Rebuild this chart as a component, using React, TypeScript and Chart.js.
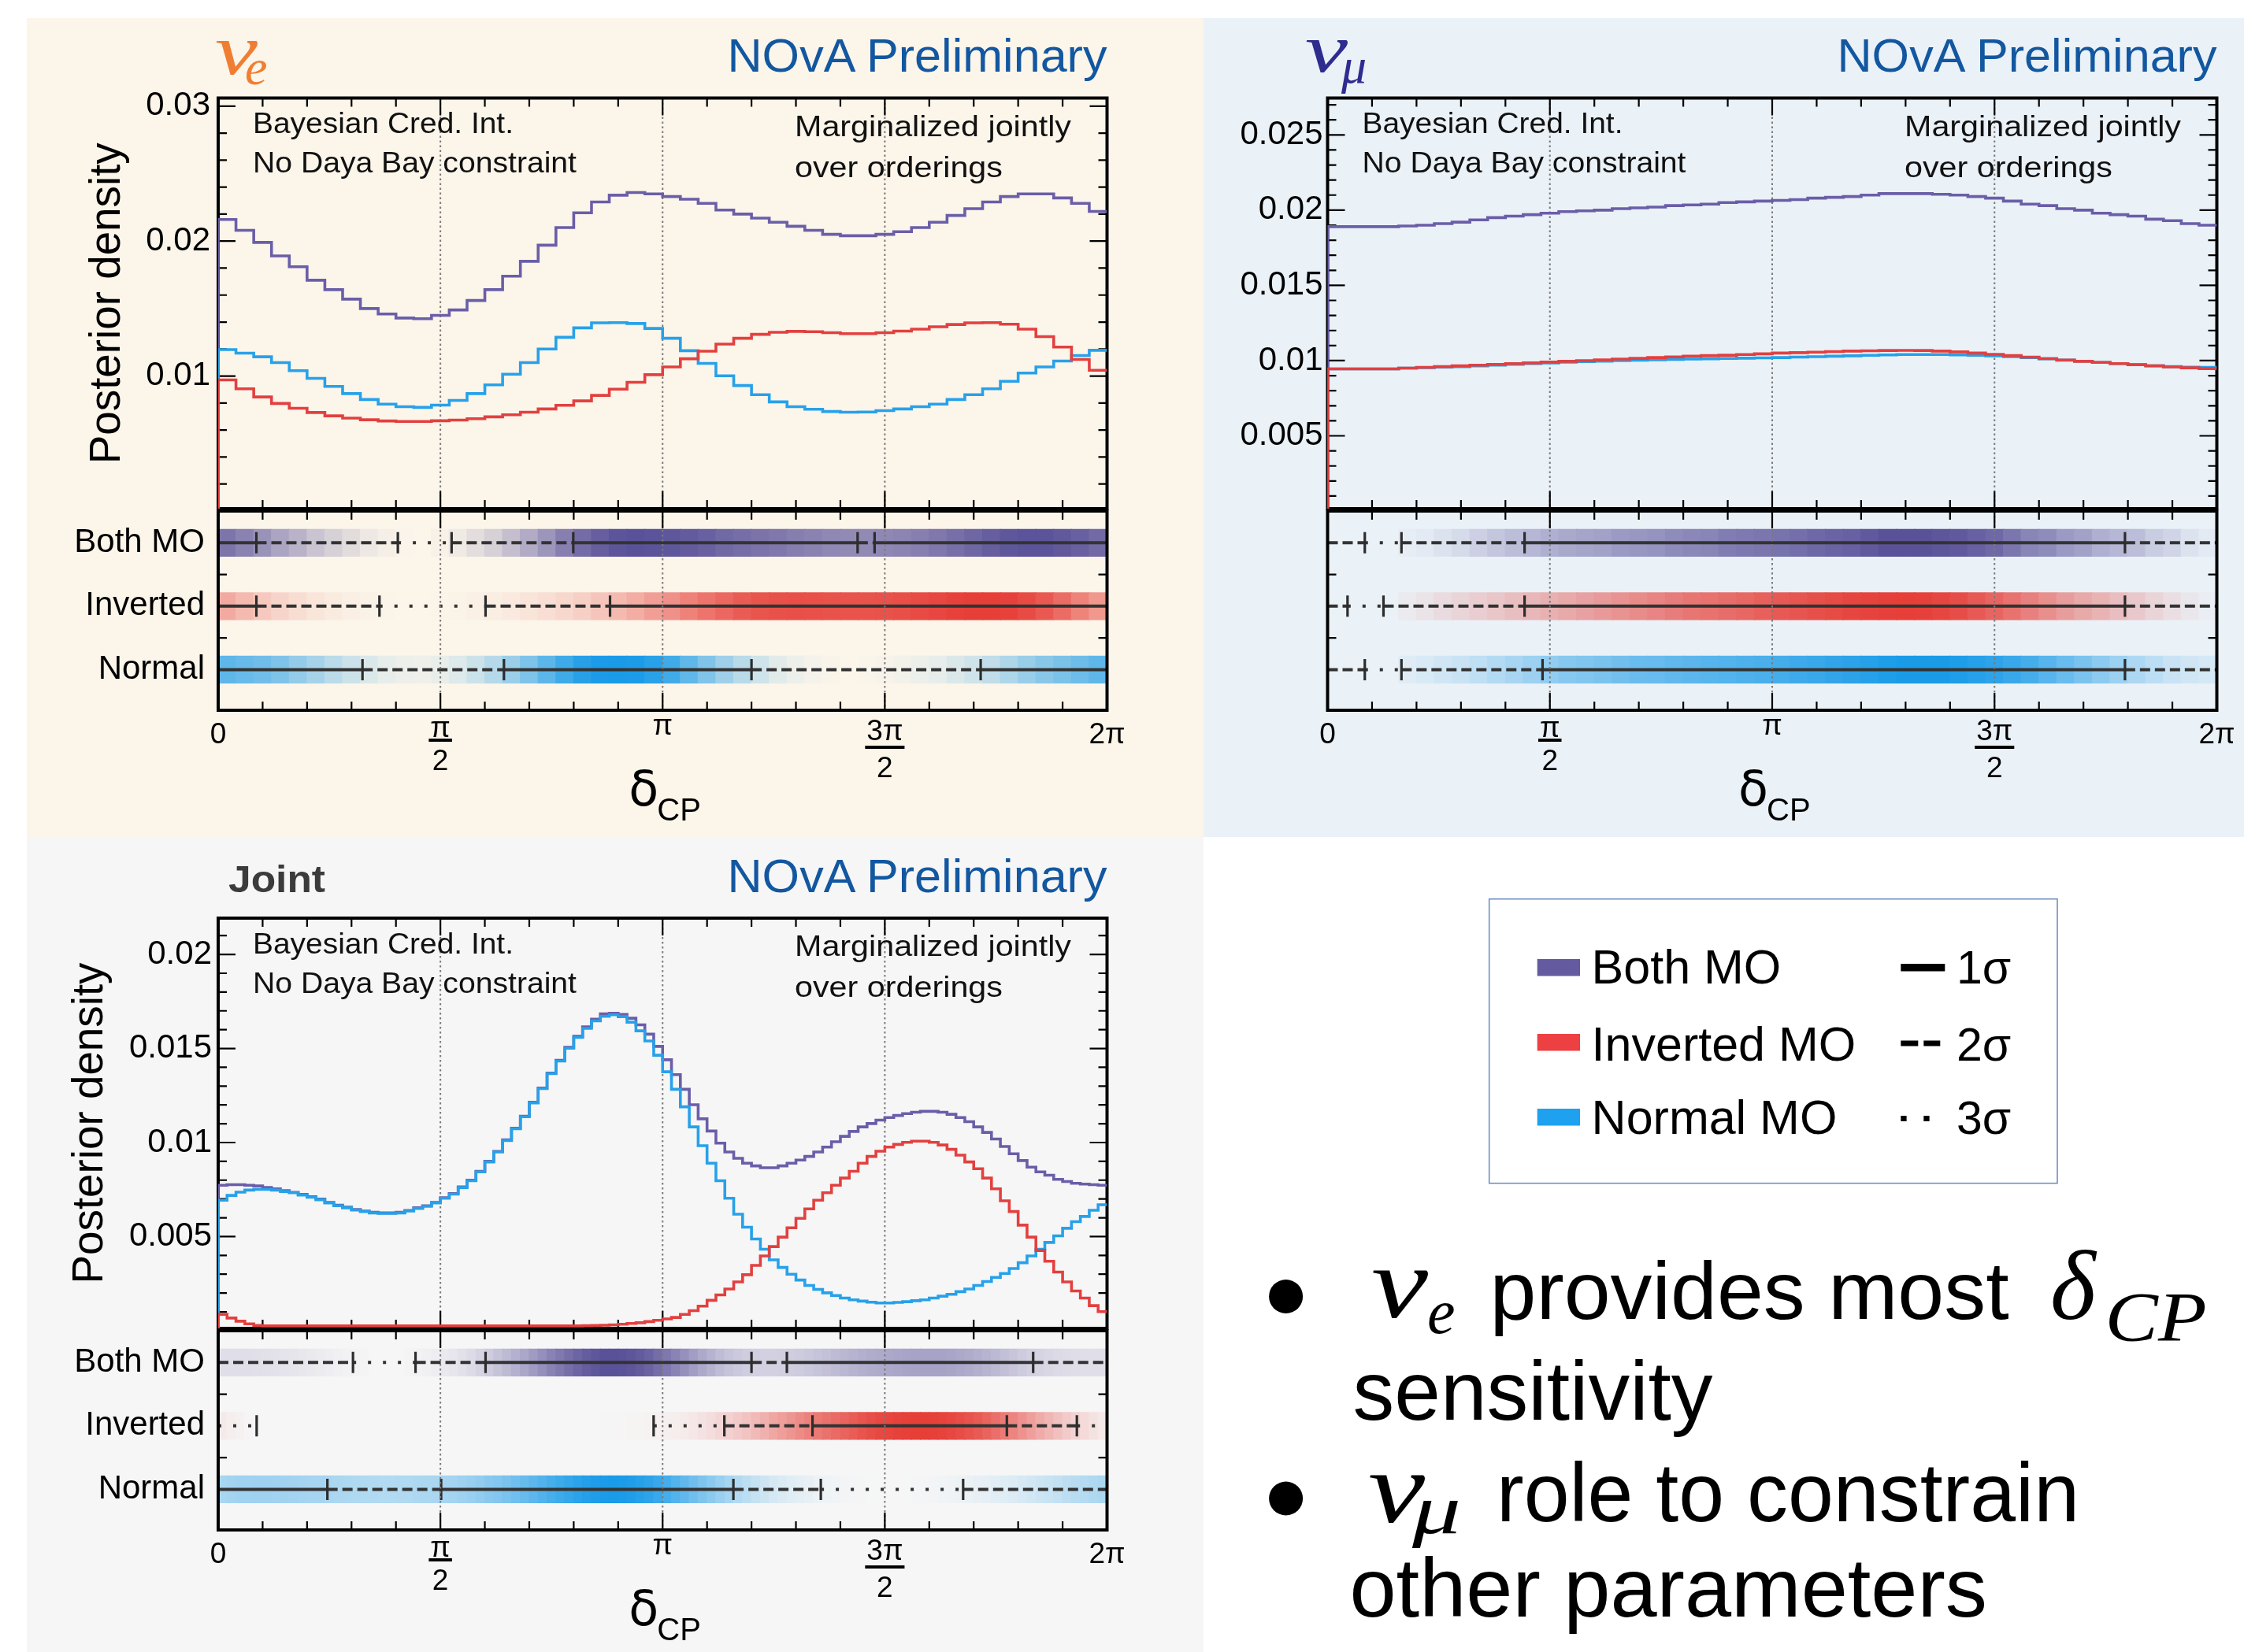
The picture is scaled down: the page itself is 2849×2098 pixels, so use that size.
import React, { useEffect, useRef } from 'react';
import { Chart, registerables } from 'chart.js';

Chart.register(...registerables);

const PI = Math.PI;
const TWO_PI = 2 * Math.PI;

// ================= posterior density per bin (δCP from 0 to 2π) =================
// νe-only, 50 bins
const nueBoth = [0.0216, 0.0208, 0.0199, 0.0189, 0.0181, 0.0171, 0.0164, 0.0157, 0.015, 0.0146, 0.0143, 0.01425, 0.0145, 0.0149, 0.0156, 0.0164, 0.0174, 0.0185, 0.0197, 0.021, 0.0221, 0.0229, 0.0234, 0.0236, 0.0235, 0.0233, 0.0231, 0.0228, 0.0223, 0.022, 0.0217, 0.0214, 0.0211, 0.0208, 0.0205, 0.0204, 0.0204, 0.0205, 0.0207, 0.021, 0.0214, 0.0219, 0.0224, 0.0229, 0.0233, 0.0235, 0.0235, 0.0232, 0.0228, 0.0222];
const nueInverted = [0.00971, 0.00906, 0.00845, 0.00797, 0.00761, 0.0073, 0.00705, 0.00688, 0.00676, 0.00667, 0.00664, 0.00664, 0.00669, 0.00674, 0.00684, 0.00698, 0.00713, 0.00732, 0.00756, 0.00783, 0.00816, 0.00857, 0.00903, 0.00954, 0.0101, 0.01068, 0.01128, 0.01184, 0.01237, 0.0128, 0.01309, 0.01324, 0.01331, 0.01329, 0.01321, 0.01314, 0.01314, 0.01321, 0.01333, 0.01348, 0.01365, 0.01382, 0.01394, 0.01396, 0.01384, 0.01348, 0.01292, 0.01215, 0.01123, 0.01043];
const nueNormal = [0.01196, 0.0117, 0.01143, 0.011, 0.0104, 0.00983, 0.00923, 0.0087, 0.00826, 0.00792, 0.00773, 0.00768, 0.00785, 0.0082, 0.0087, 0.00935, 0.01014, 0.011, 0.012, 0.01287, 0.01357, 0.01394, 0.01396, 0.01389, 0.01353, 0.0128, 0.01188, 0.01094, 0.01002, 0.0093, 0.00862, 0.00809, 0.00773, 0.00754, 0.00737, 0.00732, 0.00734, 0.00744, 0.00756, 0.00773, 0.00792, 0.00826, 0.00862, 0.00906, 0.00961, 0.01022, 0.01068, 0.01111, 0.01152, 0.01191];
// νμ-only, 50 bins
const numuBoth = [0.0189, 0.0189, 0.0189, 0.0189, 0.01895, 0.019, 0.0191, 0.0192, 0.01935, 0.0195, 0.0196, 0.0197, 0.0198, 0.0199, 0.01995, 0.02, 0.0201, 0.02015, 0.0202, 0.0203, 0.02035, 0.0204, 0.0205, 0.02055, 0.0206, 0.02065, 0.0207, 0.0208, 0.02085, 0.0209, 0.021, 0.0211, 0.0211, 0.0211, 0.02105, 0.021, 0.0209, 0.0208, 0.0206, 0.0204, 0.0203, 0.0201, 0.02, 0.0198, 0.0197, 0.0196, 0.0194, 0.0193, 0.0191, 0.019];
const numuInverted = [0.00945, 0.00945, 0.00945, 0.00945, 0.0095, 0.00955, 0.0096, 0.00965, 0.0097, 0.00975, 0.0098, 0.00985, 0.0099, 0.00995, 0.01, 0.01005, 0.0101, 0.01015, 0.0102, 0.01025, 0.0103, 0.01033, 0.01036, 0.0104, 0.01045, 0.0105, 0.01053, 0.01056, 0.0106, 0.01063, 0.01065, 0.01067, 0.01068, 0.01067, 0.01063, 0.01058, 0.0105, 0.01042, 0.01033, 0.01023, 0.01013, 0.01003, 0.00995, 0.00988, 0.0098, 0.00973, 0.00965, 0.00958, 0.00952, 0.00947];
const numuNormal = [0.00945, 0.00945, 0.00945, 0.00945, 0.0095, 0.00953, 0.00957, 0.0096, 0.00965, 0.0097, 0.00975, 0.0098, 0.00985, 0.0099, 0.00993, 0.00996, 0.01, 0.01003, 0.01005, 0.01008, 0.0101, 0.01012, 0.01014, 0.01016, 0.01018, 0.0102, 0.01023, 0.01026, 0.01029, 0.01032, 0.01035, 0.01038, 0.0104, 0.0104, 0.0104, 0.01038, 0.01035, 0.01031, 0.01026, 0.0102, 0.01012, 0.01004, 0.00996, 0.00988, 0.0098, 0.00973, 0.00966, 0.0096, 0.00957, 0.00955];
// joint, 100 bins
const jointBoth = [0.00773, 0.00776, 0.00776, 0.00773, 0.00769, 0.00761, 0.00754, 0.00744, 0.00735, 0.00724, 0.00712, 0.00699, 0.00682, 0.00667, 0.00656, 0.00644, 0.00636, 0.00629, 0.00626, 0.00626, 0.00629, 0.00639, 0.00653, 0.00664, 0.00682, 0.00707, 0.00729, 0.00764, 0.008, 0.00847, 0.009, 0.00953, 0.01014, 0.01076, 0.0114, 0.01214, 0.0129, 0.01369, 0.01437, 0.01506, 0.01565, 0.01615, 0.01656, 0.01684, 0.01687, 0.01681, 0.01661, 0.01626, 0.01576, 0.01511, 0.0144, 0.01361, 0.01283, 0.01201, 0.01126, 0.01061, 0.00997, 0.0095, 0.00916, 0.0089, 0.00876, 0.00866, 0.00866, 0.00876, 0.0089, 0.00907, 0.00926, 0.0095, 0.00976, 0.01004, 0.01033, 0.01059, 0.01083, 0.01101, 0.01119, 0.01133, 0.01144, 0.01154, 0.01161, 0.01166, 0.01166, 0.01161, 0.0115, 0.01133, 0.01111, 0.01083, 0.01054, 0.01019, 0.00979, 0.0094, 0.00904, 0.00869, 0.00844, 0.00826, 0.00804, 0.00793, 0.00783, 0.00779, 0.00776, 0.00773];
const jointInverted = [0.00087, 0.00067, 0.0005, 0.00036, 0.00027, 0.00025, 0.00025, 0.00025, 0.00025, 0.00025, 0.00025, 0.00025, 0.00025, 0.00025, 0.00025, 0.00025, 0.00025, 0.00025, 0.00025, 0.00025, 0.00025, 0.00025, 0.00025, 0.00025, 0.00025, 0.00025, 0.00025, 0.00025, 0.00025, 0.00025, 0.00025, 0.00025, 0.00025, 0.00025, 0.00025, 0.00025, 0.00025, 0.00025, 0.00025, 0.00025, 0.00025, 0.00026, 0.00027, 0.00029, 0.00031, 0.00034, 0.00038, 0.00042, 0.00048, 0.00055, 0.00062, 0.0007, 0.00086, 0.00106, 0.0013, 0.00161, 0.0019, 0.00221, 0.00259, 0.00297, 0.00347, 0.00397, 0.00447, 0.00497, 0.00547, 0.00597, 0.00647, 0.00693, 0.00733, 0.00773, 0.00811, 0.00847, 0.0089, 0.00926, 0.00954, 0.00976, 0.0099, 0.01001, 0.01007, 0.01007, 0.01001, 0.00987, 0.00964, 0.00933, 0.00897, 0.00861, 0.00811, 0.00754, 0.0069, 0.00633, 0.00561, 0.00497, 0.00426, 0.00369, 0.00311, 0.00259, 0.00211, 0.00173, 0.00133, 0.00101];
const jointNormal = [0.00693, 0.00719, 0.00736, 0.00747, 0.00751, 0.00751, 0.00747, 0.0074, 0.00733, 0.00721, 0.00709, 0.00696, 0.00679, 0.00664, 0.00653, 0.00641, 0.00633, 0.00626, 0.00623, 0.00623, 0.00626, 0.00636, 0.0065, 0.00661, 0.00679, 0.00704, 0.00726, 0.00761, 0.00797, 0.00844, 0.00897, 0.0095, 0.01011, 0.01073, 0.01137, 0.01211, 0.01287, 0.01366, 0.01433, 0.01501, 0.01559, 0.01607, 0.01647, 0.01671, 0.01679, 0.01669, 0.0164, 0.01594, 0.0154, 0.01464, 0.01376, 0.01283, 0.0119, 0.01083, 0.00983, 0.0089, 0.00797, 0.00704, 0.00619, 0.0055, 0.00487, 0.00433, 0.00376, 0.00336, 0.003, 0.00269, 0.0024, 0.00219, 0.00201, 0.00187, 0.00173, 0.00164, 0.00157, 0.00151, 0.00147, 0.00147, 0.0015, 0.00154, 0.00159, 0.00164, 0.00173, 0.00183, 0.00193, 0.00207, 0.00221, 0.0024, 0.00261, 0.00283, 0.00304, 0.0033, 0.00361, 0.00397, 0.00433, 0.00469, 0.00504, 0.00544, 0.00579, 0.00607, 0.0064, 0.00669];

// ================= credible intervals: segment edges (rad) + level per segment =================
// level 1 = 1σ (solid), 2 = 2σ (dashed), 3 = 3σ (dotted), 0 = outside
const nueBothEdges = [0, 0.27, 1.27, 1.65, 2.51, 4.52, 4.64, TWO_PI];
const nueBothLevels = [1, 2, 3, 2, 1, 2, 1];
const nueInvertedEdges = [0, 0.27, 1.14, 1.89, 2.77, TWO_PI];
const nueInvertedLevels = [1, 2, 3, 2, 1];
const nueNormalEdges = [0, 1.02, 2.02, 3.77, 5.39, TWO_PI];
const nueNormalLevels = [1, 2, 1, 2, 1];

const numuBothEdges = [0, 0.263, 0.522, 1.392, 5.634, TWO_PI];
const numuBothLevels = [2, 3, 2, 1, 2];
const numuInvertedEdges = [0, 0.141, 0.395, 1.392, 5.634, TWO_PI];
const numuInvertedLevels = [2, 3, 2, 1, 2];
const numuNormalEdges = [0, 0.263, 0.522, 1.519, 5.634, TWO_PI];
const numuNormalLevels = [2, 3, 2, 1, 2];

const jointBothEdges = [0, 0.953, 1.395, 1.89, 3.77, 4.02, 5.761, TWO_PI];
const jointBothLevels = [2, 3, 2, 1, 2, 1, 2];
const jointInvertedEdges = [0, 0.272, 3.078, 3.578, 4.201, 5.575, 6.07, TWO_PI];
const jointInvertedLevels = [3, 0, 3, 2, 1, 2, 3];
const jointNormalEdges = [0, 0.772, 1.576, 3.642, 4.26, 5.266, TWO_PI];
const jointNormalLevels = [1, 2, 1, 2, 3, 2];

// ================= axis ticks and labels =================
const rowLabels = ['Normal', 'Inverted', 'Both MO']; // strip rows at y = 0, 1, 2
const rowValues = [0, 1, 2];
const stripYTicks = [0.5, 1.5];
const xLabelValues = [0, PI / 2, PI, 1.5 * PI, TWO_PI];
const xLabelNum = ['0', 'π', 'π', '3π', '2π'];
const xLabelDen = ['', '2', '', '2', ''];
const xGridValues = [PI / 2, PI, 1.5 * PI];
const nueYLabelValues = [0.01, 0.02, 0.03];
const nueYLabels = ['0.01', '0.02', '0.03'];
const numuYLabelValues = [0.005, 0.01, 0.015, 0.02, 0.025];
const numuYLabels = ['0.005', '0.01', '0.015', '0.02', '0.025'];
const jointYLabelValues = [0.005, 0.01, 0.015, 0.02];
const jointYLabels = ['0.005', '0.01', '0.015', '0.02'];

function steps(a: number, b: number, s: number) {
  const out: number[] = [];
  for (let k = 0; a + k * s <= b + 1e-9; k++) out.push(a + k * s);
  return out;
}
const xTicks = steps(0, TWO_PI, PI / 10);

// ================= styles =================
const SANS = "'Liberation Sans', Arial, Helvetica, sans-serif";
const SERIF = "'Liberation Serif', 'Times New Roman', serif";
const LINE = { both: '#6a5ea8', inverted: '#e2403f', normal: '#27a1e9' };
const BAND = { both: '#5a5299', inverted: '#e63f38', normal: '#1a9be8' };
const INTERVAL_COLOR = '#333333';
const DASH: Record<number, number[]> = { 1: [], 2: [13, 6], 3: [4, 15] };

function hexRgb(h: string) {
  const n = parseInt(h.slice(1), 16);
  return [(n >> 16) & 255, (n >> 8) & 255, n & 255];
}
function mix(bg: string, fg: string, t: number) {
  const a = hexRgb(bg), b = hexRgb(fg);
  const c = a.map((v, i) => Math.round(v + (b[i] - v) * t));
  return `rgb(${c[0]},${c[1]},${c[2]})`;
}

type Rows = { both: number[]; inverted: number[]; normal: number[] };
type Interval = { edges: number[]; levels: number[] };
type PanelCfg = {
  bg: string;
  box: { left: number; top: number; width: number; height: number };
  frameL: number; frameR: number;
  densTop: number; densBot: number; stripTop: number; stripBot: number;
  yMin: number; yMax: number;
  yLabelValues: number[]; yLabels: string[]; yTicks: number[]; yLabelPad: number;
  series: Rows;
  intervals: { both: Interval; inverted: Interval; normal: Interval };
  showRowLabels: boolean;
};

const panels: PanelCfg[] = [
  {
    bg: '#fbf5ea', box: { left: 34, top: 23, width: 1494, height: 1040 },
    frameL: 277, frameR: 1405.5, densTop: 124.5, densBot: 646, stripTop: 649, stripBot: 902,
    yMin: 0.000175, yMax: 0.0306,
    yLabelValues: nueYLabelValues, yLabels: nueYLabels, yTicks: steps(0.002, 0.0305, 0.002), yLabelPad: 10,
    series: { both: nueBoth, inverted: nueInverted, normal: nueNormal },
    intervals: {
      both: { edges: nueBothEdges, levels: nueBothLevels },
      inverted: { edges: nueInvertedEdges, levels: nueInvertedLevels },
      normal: { edges: nueNormalEdges, levels: nueNormalLevels },
    },
    showRowLabels: true,
  },
  {
    bg: '#eaf1f7', box: { left: 1528, top: 23, width: 1321, height: 1040 },
    frameL: 1685.5, frameR: 2814.5, densTop: 124.5, densBot: 646, stripTop: 649, stripBot: 902,
    yMin: 0.00016, yMax: 0.02745,
    yLabelValues: numuYLabelValues, yLabels: numuYLabels, yTicks: steps(0.001, 0.0274, 0.001), yLabelPad: 6,
    series: { both: numuBoth, inverted: numuInverted, normal: numuNormal },
    intervals: {
      both: { edges: numuBothEdges, levels: numuBothLevels },
      inverted: { edges: numuInvertedEdges, levels: numuInvertedLevels },
      normal: { edges: numuNormalEdges, levels: numuNormalLevels },
    },
    showRowLabels: false,
  },
  {
    bg: '#f6f6f6', box: { left: 34, top: 1063, width: 1494, height: 1035 },
    frameL: 277, frameR: 1405.5, densTop: 1166, densBot: 1687, stripTop: 1690, stripBot: 1943,
    yMin: 0.00012, yMax: 0.02193,
    yLabelValues: jointYLabelValues, yLabels: jointYLabels, yTicks: steps(0.001, 0.0219, 0.001), yLabelPad: 8,
    series: { both: jointBoth, inverted: jointInverted, normal: jointNormal },
    intervals: {
      both: { edges: jointBothEdges, levels: jointBothLevels },
      inverted: { edges: jointInvertedEdges, levels: jointInvertedLevels },
      normal: { edges: jointNormalEdges, levels: jointNormalLevels },
    },
    showRowLabels: true,
  },
];

const Y_AXIS_W = 250;

function canvasBox(fL: number, fR: number, fT: number, fB: number, padT: number, padB: number) {
  const left = Math.floor(fL - Y_AXIS_W);
  const top = Math.floor(fT - padT);
  const right = Math.ceil(fR + 30);
  const bottom = Math.ceil(fB + padB);
  return {
    left, top, w: right - left, h: bottom - top,
    padding: { left: fL - Y_AXIS_W - left, top: fT - top, right: right - fR, bottom: bottom - fB },
  };
}

function histPoints(values: number[]) {
  const w = TWO_PI / values.length;
  const pts: { x: number; y: number }[] = [{ x: 0, y: 0 }];
  values.forEach((v, i) => pts.push({ x: i * w, y: v }));
  pts.push({ x: TWO_PI, y: values[values.length - 1] });
  return pts;
}

function near(v: number, arr: number[]) {
  return arr.some((a) => Math.abs(a - v) < 1e-7);
}

function makeFramePlugin(o: { yTicks: number[]; yMajor: number[]; onTop: boolean; xLabels: boolean }) {
  const drawFrame = (chart: any) => {
    const { ctx, chartArea: a } = chart;
    const xs = chart.scales.x, ys = chart.scales.y;
    ctx.save();
    ctx.strokeStyle = '#7a7a7a';
    ctx.lineWidth = 2;
    ctx.setLineDash([2.4, 3.6]);
    ctx.beginPath();
    for (const v of xGridValues) {
      const X = xs.getPixelForValue(v);
      ctx.moveTo(X, a.top);
      ctx.lineTo(X, a.bottom);
    }
    ctx.stroke();
    ctx.setLineDash([]);
    ctx.strokeStyle = '#000';
    ctx.lineWidth = 2.2;
    ctx.beginPath();
    for (const v of xTicks) {
      const X = xs.getPixelForValue(v);
      const len = near(v, xLabelValues) ? 22 : 11;
      ctx.moveTo(X, a.top); ctx.lineTo(X, a.top + len);
      ctx.moveTo(X, a.bottom); ctx.lineTo(X, a.bottom - len);
    }
    for (const v of o.yTicks) {
      const Y = ys.getPixelForValue(v);
      const len = near(v, o.yMajor) ? 22 : 11;
      ctx.moveTo(a.left, Y); ctx.lineTo(a.left + len, Y);
      ctx.moveTo(a.right, Y); ctx.lineTo(a.right - len, Y);
    }
    ctx.stroke();
    ctx.lineWidth = 4;
    ctx.strokeRect(a.left, a.top, a.right - a.left, a.bottom - a.top);
    ctx.restore();
  };
  const drawXLabels = (chart: any) => {
    const { ctx, chartArea: a } = chart;
    const xs = chart.scales.x;
    ctx.save();
    ctx.fillStyle = '#000';
    ctx.textAlign = 'center';
    ctx.textBaseline = 'alphabetic';
    ctx.font = `37px ${SANS}`;
    xLabelValues.forEach((v, i) => {
      const X = xs.getPixelForValue(v);
      const num = xLabelNum[i];
      const den = xLabelDen[i];
      if (!den) {
        ctx.fillText(num, X, a.bottom + (num === 'π' ? 31 : 42));
      } else {
        const tall = num.length > 1;
        const nb = a.bottom + (tall ? 38 : 34);
        ctx.fillText(num, X, nb);
        const w = ctx.measureText(num).width + 4;
        ctx.fillRect(X - w / 2, nb + (tall ? 7 : 2), w, 4);
        ctx.fillText(den, X, a.bottom + (tall ? 85 : 76));
      }
    });
    const cx = (a.left + a.right) / 2;
    ctx.textAlign = 'left';
    ctx.font = `62px 'DejaVu Sans', ${SANS}`;
    ctx.fillText('δ', cx - 43, a.bottom + 121);
    ctx.font = `40px ${SANS}`;
    ctx.fillText('CP', cx - 7, a.bottom + 140);
    ctx.restore();
  };
  return {
    id: 'rootFrame',
    beforeDatasetsDraw(chart: any) { if (!o.onTop) drawFrame(chart); },
    afterDatasetsDraw(chart: any) {
      if (o.onTop) drawFrame(chart);
      if (o.xLabels) drawXLabels(chart);
    },
  };
}

function baseOptions(padding: any) {
  return {
    responsive: false,
    maintainAspectRatio: false,
    animation: false,
    devicePixelRatio: 1,
    events: [],
    layout: { padding },
    plugins: { legend: { display: false }, tooltip: { enabled: false }, title: { display: false } },
  };
}

function densityConfig(p: PanelCfg, box: any) {
  const mk = (label: string, values: number[], color: string, order: number) => ({
    type: 'line', label, data: histPoints(values), borderColor: color, borderWidth: 3.6,
    pointRadius: 0, stepped: 'before', fill: false, tension: 0, order,
  });
  return {
    type: 'line',
    data: {
      datasets: [
        mk('Inverted MO', p.series.inverted, LINE.inverted, 0),
        mk('Normal MO', p.series.normal, LINE.normal, 1),
        mk('Both MO', p.series.both, LINE.both, 2),
      ],
    },
    options: {
      ...baseOptions(box.padding),
      scales: {
        x: { type: 'linear', min: 0, max: TWO_PI, display: false, offset: false },
        y: {
          type: 'linear', position: 'left', min: p.yMin, max: p.yMax, offset: false,
          grid: { display: false, drawTicks: false, offset: false }, border: { display: false },
          ticks: {
            display: true, autoSkip: false, padding: p.yLabelPad, color: '#000',
            font: { family: SANS, size: 42 },
            callback: (_v: any, i: number) => p.yLabels[i],
          },
          afterBuildTicks: (s: any) => { s.ticks = p.yLabelValues.map((v) => ({ value: v })); },
          afterFit: (s: any) => { s.width = Y_AXIS_W; },
        },
      },
    },
    plugins: [makeFramePlugin({ yTicks: p.yTicks, yMajor: p.yLabelValues, onTop: false, xLabels: false })],
  };
}

function stripConfig(p: PanelCfg, box: any) {
  const rows: { key: 'both' | 'inverted' | 'normal'; y: number }[] = [
    { key: 'normal', y: 0 }, { key: 'inverted', y: 1 }, { key: 'both', y: 2 },
  ];
  const datasets: any[] = [];
  const markers: { x: number; y: number }[] = [];
  rows.forEach(({ key, y }) => {
    const vals = p.series[key];
    const lo = Math.min(...vals), hi = Math.max(...vals);
    const w = TWO_PI / vals.length;
    datasets.push({
      type: 'bar', label: key + ' band', indexAxis: 'y', grouped: false,
      data: vals.map((v, i) => ({ x: [i * w, (i + 1) * w], y })),
      backgroundColor: vals.map((v) => mix(p.bg, BAND[key], (v - lo) / (hi - lo))),
      borderWidth: 0, barThickness: 34, inflateAmount: 0.6, order: 3,
    });
    const iv = p.intervals[key];
    [1, 2, 3].forEach((lvl) => {
      const data: any[] = [];
      iv.levels.forEach((l, s) => {
        if (l !== lvl) return;
        data.push({ x: iv.edges[s], y }, { x: iv.edges[s + 1], y }, { x: iv.edges[s + 1], y: null });
      });
      if (!data.length) return;
      datasets.push({
        type: 'line', label: `${key} ${lvl}σ`, data, borderColor: INTERVAL_COLOR, borderWidth: 4,
        borderDash: DASH[lvl], borderCapStyle: 'butt', pointRadius: 0, spanGaps: false, fill: false, order: 1,
      });
    });
    iv.edges.slice(1, -1).forEach((e) => markers.push({ x: e, y }));
  });
  datasets.push({
    type: 'scatter', label: 'interval edges', data: markers, showLine: false,
    pointStyle: 'line', pointRotation: 90, pointRadius: 13.5, pointBorderWidth: 3.2,
    pointBorderColor: '#2d2d2d', pointBackgroundColor: '#2d2d2d', order: 0,
  });
  return {
    type: 'line',
    data: { datasets },
    options: {
      ...baseOptions(box.padding),
      scales: {
        x: { type: 'linear', min: 0, max: TWO_PI, display: false, offset: false, beginAtZero: false },
        y: {
          type: 'linear', position: 'left', min: -0.64, max: 2.5, offset: false, beginAtZero: false,
          grid: { display: false, drawTicks: false, offset: false }, border: { display: false },
          ticks: {
            display: p.showRowLabels, autoSkip: false, padding: 17, color: '#000',
            font: { family: SANS, size: 42 },
            callback: (_v: any, i: number) => rowLabels[i],
          },
          afterBuildTicks: (s: any) => { s.ticks = rowValues.map((v) => ({ value: v })); },
          afterFit: (s: any) => { s.width = Y_AXIS_W; },
        },
      },
    },
    plugins: [makeFramePlugin({ yTicks: stripYTicks, yMajor: [], onTop: true, xLabels: true })],
  };
}

function PanelCharts({ p }: { p: PanelCfg }) {
  const densRef = useRef<HTMLCanvasElement>(null);
  const stripRef = useRef<HTMLCanvasElement>(null);
  const dens = canvasBox(p.frameL, p.frameR, p.densTop, p.densBot, 64, 64);
  const strip = canvasBox(p.frameL, p.frameR, p.stripTop, p.stripBot, 64, 170);
  useEffect(() => {
    const c1 = new Chart(densRef.current as any, densityConfig(p, dens) as any);
    const c2 = new Chart(stripRef.current as any, stripConfig(p, strip) as any);
    return () => { c1.destroy(); c2.destroy(); };
  }, []);
  const st = (b: any): React.CSSProperties => ({ position: 'absolute', left: b.left, top: b.top, width: b.w, height: b.h });
  return (
    <>
      <canvas ref={densRef} width={dens.w} height={dens.h} style={st(dens)} />
      <canvas ref={stripRef} width={strip.w} height={strip.h} style={st(strip)} />
    </>
  );
}

function PanelTexts({ p, yTitleX }: { p: PanelCfg; yTitleX: number | null }) {
  const L = p.frameL, R = p.frameR, T = p.densTop, B = p.densBot;
  const common = { fontFamily: SANS, fill: '#111', lengthAdjust: 'spacingAndGlyphs' as any };
  return (
    <g>
      <text x={R} y={T - 33.5} textAnchor="end" fontFamily={SANS} fontSize={59} fill="#1257a0" textLength={482} lengthAdjust="spacingAndGlyphs">NOvA Preliminary</text>
      <text x={L + 44} y={T + 44.5} fontSize={37} textLength={331} {...common}>Bayesian Cred. Int.</text>
      <text x={L + 44} y={T + 94.7} fontSize={37} textLength={411} {...common}>No Daya Bay constraint</text>
      <text x={R - 396.5} y={T + 48} fontSize={37} textLength={351} {...common}>Marginalized jointly</text>
      <text x={R - 396.5} y={T + 100} fontSize={37} textLength={264} {...common}>over orderings</text>
      {yTitleX !== null && (
        <text transform={`translate(${yTitleX},${(T + B) / 2}) rotate(-90)`} textAnchor="middle" fontFamily={SANS} fontSize={56} fill="#000" textLength={408} lengthAdjust="spacingAndGlyphs">Posterior density</text>
      )}
    </g>
  );
}

export default function App() {
  const legendRows = [
    { label: 'Both MO', color: '#645a9f', y: 1249.3, rectY: 1218 },
    { label: 'Inverted MO', color: '#ed4043', y: 1346.7, rectY: 1313 },
    { label: 'Normal MO', color: '#1ea1ef', y: 1440, rectY: 1408 },
  ];
  const adj = 'spacingAndGlyphs' as any;
  return (
    <div style={{ position: 'absolute', left: 0, top: 0, width: 2849, height: 2098, background: '#ffffff', overflow: 'hidden' }}>
      {panels.map((p, i) => (
        <div key={'bg' + i} style={{ position: 'absolute', left: p.box.left, top: p.box.top, width: p.box.width, height: p.box.height, background: p.bg }} />
      ))}
      {panels.map((p, i) => <PanelCharts key={'c' + i} p={p} />)}
      <svg width={2849} height={2098} style={{ position: 'absolute', left: 0, top: 0, pointerEvents: 'none' }}>
        <PanelTexts p={panels[0]} yTitleX={152} />
        <PanelTexts p={panels[1]} yTitleX={null} />
        <PanelTexts p={panels[2]} yTitleX={130} />
        {/* panel titles */}
        <text x={273} y={94} fontFamily={SERIF} fontStyle="italic" fontSize={90} fill="#f07e32" textLength={54} lengthAdjust={adj}>ν</text>
        <text x={311} y={107} fontFamily={SERIF} fontStyle="italic" fontSize={64} fill="#f07e32">e</text>
        <text x={1657} y={91} fontFamily={SERIF} fontStyle="italic" fontSize={86} fill="#2e2c8f" textLength={54} lengthAdjust={adj}>ν</text>
        <text x={1703} y={105} fontFamily={SERIF} fontStyle="italic" fontSize={64} fill="#2e2c8f">μ</text>
        <text x={290} y={1133} fontFamily={SANS} fontWeight="bold" fontSize={49} fill="#3b3b3b" textLength={123} lengthAdjust={adj}>Joint</text>

        {/* legend */}
        <rect x={1890.7} y={1141.7} width={721.3} height={361} fill="#ffffff" stroke="#6f8fc4" strokeWidth={1.6} />
        {legendRows.map((r) => (
          <g key={r.label}>
            <rect x={1951.7} y={r.rectY} width={54.3} height={21.5} fill={r.color} />
            <text x={2020.6} y={r.y} fontFamily={SANS} fontSize={61} fill="#000">{r.label}</text>
          </g>
        ))}
        <rect x={2413.3} y={1224} width={56} height={9.5} fill="#000" />
        <rect x={2413.3} y={1321.5} width={22} height={7} fill="#000" />
        <rect x={2442.3} y={1321.5} width={21} height={7} fill="#000" />
        <rect x={2413.3} y={1417} width={7.3} height={7} fill="#000" />
        <rect x={2442.3} y={1417} width={7.3} height={7} fill="#000" />
        <text x={2484} y={1249.3} fontFamily={SANS} fontSize={59} fill="#000">1σ</text>
        <text x={2484} y={1346.7} fontFamily={SANS} fontSize={59} fill="#000">2σ</text>
        <text x={2484} y={1440} fontFamily={SANS} fontSize={59} fill="#000">3σ</text>

        {/* bullets */}
        <circle cx={1632.6} cy={1646.5} r={21.5} fill="#000" />
        <text x={1741} y={1673} fontFamily={SERIF} fontStyle="italic" fontSize={130} fill="#000" textLength={72} lengthAdjust={adj}>ν</text>
        <text x={1812} y={1693} fontFamily={SERIF} fontStyle="italic" fontSize={80} fill="#000">e</text>
        <text x={1891.6} y={1675} fontFamily={SANS} fontSize={104} fill="#000" textLength={659} lengthAdjust={adj}>provides most</text>
        <text x={2603} y={1675} fontFamily={SERIF} fontStyle="italic" fontSize={124} fill="#000">δ</text>
        <text x={2672.6} y={1702} fontFamily={SERIF} fontStyle="italic" fontSize={88} fill="#000" textLength={129} lengthAdjust={adj}>CP</text>
        <text x={1717.6} y={1803} fontFamily={SANS} fontSize={105} fill="#000" textLength={457} lengthAdjust={adj}>sensitivity</text>
        <circle cx={1632.6} cy={1903} r={21.5} fill="#000" />
        <text x={1737} y={1933} fontFamily={SERIF} fontStyle="italic" fontSize={130} fill="#000" textLength={72} lengthAdjust={adj}>ν</text>
        <text x={1793} y={1947} fontFamily={SERIF} fontStyle="italic" fontSize={88} fill="#000" textLength={62} lengthAdjust={adj}>μ</text>
        <text x={1900} y={1931.5} fontFamily={SANS} fontSize={105} fill="#000" textLength={740} lengthAdjust={adj}>role to constrain</text>
        <text x={1713.5} y={2052.5} fontFamily={SANS} fontSize={105} fill="#000" textLength={809.5} lengthAdjust={adj}>other parameters</text>
      </svg>
    </div>
  );
}
